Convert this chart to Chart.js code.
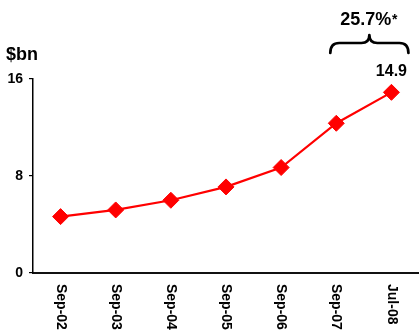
<!DOCTYPE html>
<html>
<head>
<meta charset="utf-8">
<script src="https://cdn.jsdelivr.net/npm/chart.js@4/dist/chart.umd.min.js"></script>
<style>
  html, body { margin: 0; padding: 0; background: #fff; }
  #wrap { position: relative; width: 419px; height: 333px; }
</style>
</head>
<body>
<div id="wrap"><canvas id="c"></canvas></div>
<script>
const categories = ["Sep-02", "Sep-03", "Sep-04", "Sep-05", "Sep-06", "Sep-07", "Jul-08"];
const values = [4.65, 5.2, 6.0, 7.1, 8.7, 12.35, 14.9];
const yTicks = [0, 8, 16];
const unitLabel = "$bn";
const growthLabel = "25.7%";
const growthNote = "*";
const FONT = "Arial, 'Liberation Sans', sans-serif";

const overlay = {
  id: 'overlay',
  afterDraw(chart) {
    const ctx = chart.ctx;
    const xs = chart.scales.x;
    const meta = chart.getDatasetMeta(0);
    ctx.save();
    ctx.fillStyle = '#000';
    // rotated x labels (top-to-bottom)
    ctx.font = 'bold 14px ' + FONT;
    ctx.textAlign = 'left';
    ctx.textBaseline = 'middle';
    categories.forEach((lab, i) => {
      const x = xs.getPixelForValue(i);
      ctx.save();
      ctx.translate(x, xs.top + 11);
      ctx.rotate(Math.PI / 2);
      ctx.fillText(lab, 0, 0);
      ctx.restore();
    });
    // unit label
    ctx.font = 'bold 18px ' + FONT;
    ctx.textAlign = 'left';
    ctx.textBaseline = 'alphabetic';
    ctx.fillText(unitLabel, 6, 60);
    // last value label
    const last = meta.data[meta.data.length - 1];
    ctx.font = 'bold 16px ' + FONT;
    ctx.textAlign = 'center';
    ctx.fillText(String(values[values.length - 1]), last.x, last.y - 16);
    // brace spanning last two points
    const prev = meta.data[meta.data.length - 2];
    const L = prev.x - 6, R = last.x + 17;
    const M = (L + R) / 2;
    const yb = 53, yh = 43, yp = 35;
    ctx.strokeStyle = '#000';
    ctx.lineWidth = 2.7;
    ctx.lineCap = 'round';
    ctx.lineJoin = 'round';
    ctx.beginPath();
    ctx.moveTo(L, yb);
    ctx.quadraticCurveTo(L, yh, L + 9, yh);
    ctx.lineTo(M - 8, yh);
    ctx.quadraticCurveTo(M, yh, M, yp);
    ctx.quadraticCurveTo(M, yh, M + 8, yh);
    ctx.lineTo(R - 9, yh);
    ctx.quadraticCurveTo(R, yh, R, yb);
    ctx.stroke();
    // growth label
    ctx.font = 'bold 18px ' + FONT;
    ctx.textAlign = 'left';
    const w = ctx.measureText(growthLabel).width;
    const tx = M - (w + 7) / 2;
    ctx.fillText(growthLabel, tx, 25);
    ctx.font = 'bold 14px ' + FONT;
    ctx.fillText(growthNote, tx + w + 0.5, 24);
    ctx.restore();
  }
};

new Chart(document.getElementById('c'), {
  type: 'line',
  data: {
    labels: categories,
    datasets: [{
      data: values,
      borderColor: '#ff0000',
      backgroundColor: '#ff0000',
      borderWidth: 2.2,
      pointStyle: 'rectRot',
      pointRadius: 8,
      pointHoverRadius: 8,
      pointBorderWidth: 1,
      pointBackgroundColor: '#ff0000',
      pointBorderColor: '#ff0000',
      tension: 0,
      clip: false
    }]
  },
  options: {
    responsive: true,
    maintainAspectRatio: false,
    animation: false,
    events: [],
    layout: { autoPadding: false, padding: { top: 79, right: 0, left: 0, bottom: 0 } },
    plugins: { legend: { display: false }, tooltip: { enabled: false }, title: { display: false } },
    scales: {
      x: {
        type: 'category',
        offset: true,
        grid: { display: false },
        border: { display: true, color: '#111', width: 2 },
        ticks: { display: false },
        afterFit(scale) { scale.height = 60; }
      },
      y: {
        min: 0,
        max: 16,
        afterBuildTicks(scale) { scale.ticks = yTicks.map(v => ({ value: v })); },
        ticks: {
          color: '#000',
          padding: 6,
          font: { family: FONT, size: 14, weight: 'bold' }
        },
        grid: { display: true, drawOnChartArea: false, drawTicks: true, tickLength: 4, color: '#000', lineWidth: 1.2 },
        border: { display: true, color: '#000', width: 1.5 },
        afterFit(scale) { scale.width = 33; }
      }
    }
  },
  plugins: [overlay]
});
</script>
</body>
</html>
